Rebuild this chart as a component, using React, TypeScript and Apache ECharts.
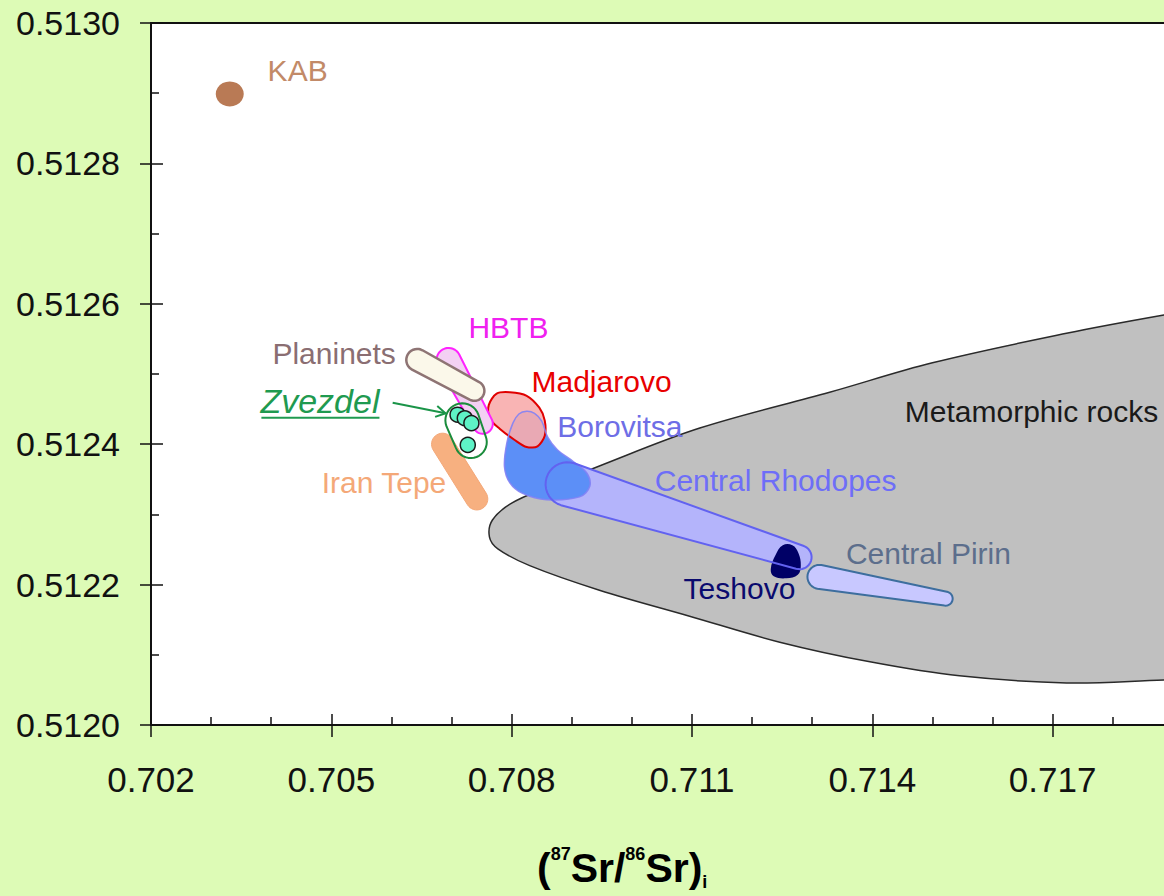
import React, { useEffect, useRef } from "react";
import * as echarts from "echarts";

// ---------- axes ----------
const X_MIN = 0.702;
const X_MAX = 0.72;
const X_STEP = 0.003;
const Y_MIN = 0.512;
const Y_MAX = 0.513;
const Y_STEP = 0.0002;

// ---------- fields (outline points, data units) ----------
const METAMORPHIC_ROCKS: [number, number][] = [
  [0.70763, 0.512268], [0.70768, 0.512292], [0.708, 0.512316], [0.70863, 0.51234],
  [0.70946, 0.512369], [0.71113, 0.512423], [0.71329, 0.512474], [0.715, 0.512516],
  [0.71723, 0.512558], [0.71885, 0.512584], [0.7202, 0.512603], [0.7202, 0.512067],
  [0.71885, 0.512064], [0.71723, 0.51206], [0.71545, 0.51207], [0.71396, 0.51209],
  [0.71246, 0.512118], [0.71096, 0.512155], [0.70946, 0.512192], [0.7083, 0.512227],
  [0.70777, 0.512251],
];
const BOROVITSA: [number, number][] = [
  [0.70825, 0.512447], [0.70838, 0.512444], [0.7085, 0.512433], [0.7086, 0.51241],
  [0.70876, 0.512392], [0.70903, 0.512375], [0.70925, 0.512359], [0.7093, 0.51234],
  [0.70913, 0.512325], [0.70858, 0.512321], [0.70818, 0.51233], [0.70797, 0.512345],
  [0.70788, 0.512368], [0.70792, 0.512402], [0.70802, 0.51243], [0.70812, 0.512443],
];
const MADJAROVO: [number, number][] = [
  [0.70762, 0.512456], [0.70775, 0.512472], [0.70797, 0.512474], [0.70825, 0.512469],
  [0.70846, 0.512452], [0.70855, 0.512434], [0.70855, 0.512412], [0.70843, 0.512397],
  [0.70825, 0.512396], [0.70805, 0.512406], [0.7078, 0.512422], [0.70763, 0.512437],
];
const TESHOVO: [number, number][] = [
  [0.71251, 0.512256], [0.71267, 0.512256], [0.71277, 0.512245], [0.71281, 0.512227],
  [0.71276, 0.512214], [0.71257, 0.512209], [0.71236, 0.512212], [0.71231, 0.512222],
  [0.71239, 0.512242],
];
// elongated fields: end points of their long axis
const CENTRAL_RHODOPES_AXIS: [number, number][] = [[0.70893, 0.512343], [0.71279, 0.512239]];
const CENTRAL_PIRIN_AXIS: [number, number][] = [[0.71312, 0.512211], [0.71522, 0.51218]];
const IRAN_TEPE_AXIS: [number, number][] = [[0.70685, 0.5124], [0.70742, 0.512322]];
const HBTB_AXIS: [number, number][] = [[0.70695, 0.51252], [0.70752, 0.512429]];
const PLANINETS_AXIS: [number, number][] = [[0.70643, 0.51252], [0.70738, 0.512476]];
const ZVEZDEL_FIELD_AXIS: [number, number][] = [[0.70718, 0.512434], [0.70732, 0.512403]];

// ---------- samples ----------
const ZVEZDEL_SAMPLES: [number, number][] = [
  [0.7071, 0.512442], [0.70722, 0.512437], [0.70733, 0.51243], [0.70727, 0.512399],
];
const KAB_SAMPLES: [number, number][] = [[0.70331, 0.512899]];
const ZVEZDEL_ARROW: [number, number][] = [[0.70602, 0.512459], [0.7069, 0.512444]];

// ---------- labels ----------
const LABEL_NAMES = [
  "KAB", "HBTB", "Planinets", "Zvezdel", "Madjarovo", "Borovitsa", "Iran Tepe",
  "Central Rhodopes", "Metamorphic rocks", "Central Pirin", "Teshovo",
];
const LABEL_POS: [number, number][] = [
  [0.70394, 0.512932], [0.70728, 0.512566], [0.70402, 0.512529], [0.70382, 0.512462],
  [0.70833, 0.512489], [0.70876, 0.512425], [0.70484, 0.512345], [0.71038, 0.512348],
  [0.71454, 0.512446], [0.71356, 0.512245], [0.71086, 0.512194],
];

// ---------- styles ----------
const FONT = '"Liberation Sans", Arial, Helvetica, sans-serif';
const LABEL_COLORS = [
  "#c28a68", "#f020f0", "#8a6e72", "#1f9a50", "#e80000", "#6e6ee6", "#f4a878",
  "#6e6ef8", "#1a1a1a", "#5c6e8c", "#0a0a6e",
];

type Layer = {
  pts?: [number, number][];
  axis?: [number, number][];
  r1?: number;
  r2?: number;
  smooth?: number;
  fill: string;
  stroke: string;
  lineWidth: number;
};

const LAYERS: Layer[] = [
  { pts: METAMORPHIC_ROCKS, smooth: 0.35, fill: "#c0c0c0", stroke: "#2a2a2a", lineWidth: 1.5 },
  { axis: CENTRAL_RHODOPES_AXIS, r1: 22, r2: 12, fill: "#b4b4fb", stroke: "none", lineWidth: 0 },
  { pts: BOROVITSA, smooth: 0.35, fill: "#5c8ff7", stroke: "none", lineWidth: 0 },
  { pts: MADJAROVO, smooth: 0.3, fill: "rgba(248,172,172,0.9)", stroke: "#e00000", lineWidth: 2 },
  { pts: BOROVITSA, smooth: 0.35, fill: "none", stroke: "rgba(130,130,245,0.9)", lineWidth: 1.5 },
  { pts: TESHOVO, smooth: 0.4, fill: "#000066", stroke: "none", lineWidth: 0 },
  { axis: CENTRAL_RHODOPES_AXIS, r1: 22, r2: 12, fill: "none", stroke: "#6262f0", lineWidth: 2 },
  { axis: CENTRAL_PIRIN_AXIS, r1: 12, r2: 7, fill: "#c8c8ff", stroke: "#3d6e9e", lineWidth: 2 },
  { axis: IRAN_TEPE_AXIS, r1: 11, r2: 11, fill: "#f7b080", stroke: "#f4a878", lineWidth: 1 },
  { axis: HBTB_AXIS, r1: 12, r2: 10, fill: "#f3d0f3", stroke: "#ff22ff", lineWidth: 2 },
  { axis: PLANINETS_AXIS, r1: 11, r2: 10, fill: "#fbf8ea", stroke: "#8e7474", lineWidth: 2.5 },
  { axis: ZVEZDEL_FIELD_AXIS, r1: 17, r2: 16, fill: "none", stroke: "#1a8c3c", lineWidth: 2 },
];

function capsule(a: number[], b: number[], r1: number, r2: number): number[][] {
  const dx = b[0] - a[0];
  const dy = b[1] - a[1];
  const L = Math.hypot(dx, dy) || 1;
  const ux = dx / L, uy = dy / L, nx = -uy, ny = ux;
  const pts: number[][] = [];
  const N = 18;
  for (let i = 0; i <= N; i++) {
    const t = Math.PI / 2 - (Math.PI * i) / N;
    const c = Math.cos(t), s = Math.sin(t);
    pts.push([b[0] + r2 * (ux * c + nx * s), b[1] + r2 * (uy * c + ny * s)]);
  }
  for (let i = 0; i <= N; i++) {
    const t = -Math.PI / 2 - (Math.PI * i) / N;
    const c = Math.cos(t), s = Math.sin(t);
    pts.push([a[0] + r1 * (ux * c + nx * s), a[1] + r1 * (uy * c + ny * s)]);
  }
  return pts;
}

function textWidth(text: string, font: string): number {
  const c = document.createElement("canvas").getContext("2d");
  if (!c) return text.length * 17;
  c.font = font;
  return c.measureText(text).width;
}

export default function App() {
  const ref = useRef<HTMLDivElement>(null);

  useEffect(() => {
    if (!ref.current) return;
    const chart = echarts.init(ref.current, undefined, { renderer: "svg" });

    const tickColor = "#111111";

    const option: any = {
      animation: false,
      backgroundColor: "#ddfbb6",
      grid: {
        left: 151,
        top: 23,
        width: 1082,
        height: 702,
        containLabel: false,
        outerBoundsMode: "none",
        show: true,
        backgroundColor: "#ffffff",
        borderWidth: 0,
      },
      xAxis: [
        {
          type: "value",
          min: X_MIN,
          max: X_MAX,
          interval: X_STEP,
          position: "bottom",
          axisLine: { show: true, onZero: false, lineStyle: { color: tickColor, width: 2 } },
          axisTick: { show: true, inside: false, length: 12, lineStyle: { color: tickColor, width: 1.5 } },
          minorTick: { show: false },
          axisLabel: {
            color: "#111111",
            fontSize: 35,
            fontFamily: FONT,
            margin: 37,
            showMaxLabel: false,
            formatter: (v: number) => (v > 0.7185 ? "" : v.toFixed(3)),
          },
          splitLine: { show: false },
        },
        {
          type: "value",
          min: X_MIN,
          max: X_MAX,
          interval: X_STEP,
          position: "bottom",
          axisLine: { show: false, onZero: false },
          axisTick: { show: true, inside: true, length: 11, lineStyle: { color: tickColor, width: 1.5 } },
          minorTick: { show: true, splitNumber: 3, length: 8, lineStyle: { color: tickColor, width: 1.5 } },
          axisLabel: { show: false },
          splitLine: { show: false },
        },
        {
          type: "value",
          min: X_MIN,
          max: X_MAX,
          position: "top",
          axisLine: { show: true, onZero: false, lineStyle: { color: tickColor, width: 2 } },
          axisTick: { show: false },
          axisLabel: { show: false },
          splitLine: { show: false },
        },
      ],
      yAxis: [
        {
          type: "value",
          min: Y_MIN,
          max: Y_MAX,
          interval: Y_STEP,
          position: "left",
          axisLine: { show: true, onZero: false, lineStyle: { color: tickColor, width: 2 } },
          axisTick: { show: true, inside: false, length: 11, lineStyle: { color: tickColor, width: 1.5 } },
          axisLabel: {
            color: "#111111",
            fontSize: 34,
            fontFamily: FONT,
            margin: 31,
            formatter: (v: number) => v.toFixed(4),
          },
          splitLine: { show: false },
        },
        {
          type: "value",
          min: Y_MIN,
          max: Y_MAX,
          interval: Y_STEP,
          position: "left",
          axisLine: { show: false, onZero: false },
          axisTick: { show: true, inside: true, length: 12, lineStyle: { color: tickColor, width: 1.5 } },
          minorTick: { show: true, splitNumber: 2, length: 8, lineStyle: { color: tickColor, width: 1.5 } },
          axisLabel: { show: false },
          splitLine: { show: false },
        },
      ],
      graphic: [
        {
          type: "text",
          x: 537,
          y: 845,
          silent: true,
          style: {
            text: "{m|(}{sup|87}{m|Sr/}{sup|86}{m|Sr)}{sub|i}",
            fontFamily: FONT,
            rich: {
              m: { fontSize: 41, fontWeight: "bold", color: "#111111", fontFamily: FONT, lineHeight: 46 },
              sup: { fontSize: 18, fontWeight: "bold", color: "#111111", fontFamily: FONT, lineHeight: 20, verticalAlign: "top" },
              sub: { fontSize: 18, fontWeight: "bold", color: "#111111", fontFamily: FONT, lineHeight: 14, verticalAlign: "bottom" },
            },
          },
        },
      ],
      series: [
        {
          type: "custom",
          name: "fields",
          silent: true,
          data: LAYERS.map((l, i) => [(l.pts || l.axis!)[0][0], (l.pts || l.axis!)[0][1], i]),
          renderItem: (params: any, api: any) => {
            const l = LAYERS[params.dataIndex];
            let pts: number[][];
            let smooth = 0;
            if (l.axis) {
              const a = api.coord(l.axis[0]);
              const b = api.coord(l.axis[1]);
              pts = capsule(a, b, l.r1 || 10, l.r2 || 10);
            } else {
              pts = l.pts!.map((p) => api.coord(p));
              smooth = l.smooth || 0;
            }
            return {
              type: "polygon",
              shape: { points: pts, smooth },
              style: { fill: l.fill, stroke: l.stroke, lineWidth: l.lineWidth, lineJoin: "round" },
            };
          },
          z: 2,
        },
        {
          type: "scatter",
          name: "Zvezdel",
          silent: true,
          symbol: "circle",
          symbolSize: 15,
          data: ZVEZDEL_SAMPLES,
          itemStyle: { color: "#5ef2c6", borderColor: "#1a1a1a", borderWidth: 1.5, opacity: 1 },
          z: 3,
        },
        {
          type: "scatter",
          name: "KAB",
          silent: true,
          symbol: "circle",
          symbolSize: [28, 25],
          data: KAB_SAMPLES,
          itemStyle: { color: "#b97a55", opacity: 1 },
          z: 3,
        },
        {
          type: "custom",
          name: "arrow",
          silent: true,
          data: [[ZVEZDEL_ARROW[0][0], ZVEZDEL_ARROW[0][1]]],
          renderItem: (params: any, api: any) => {
            const t = api.coord(ZVEZDEL_ARROW[0]);
            const h = api.coord(ZVEZDEL_ARROW[1]);
            const dx = h[0] - t[0], dy = h[1] - t[1];
            const L = Math.hypot(dx, dy) || 1;
            const ux = dx / L, uy = dy / L;
            const arm = 11, ang = (30 * Math.PI) / 180;
            const rot = (a: number) => [
              ux * Math.cos(a) - uy * Math.sin(a),
              ux * Math.sin(a) + uy * Math.cos(a),
            ];
            const r1 = rot(ang), r2 = rot(-ang);
            return {
              type: "group",
              children: [
                { type: "line", shape: { x1: t[0], y1: t[1], x2: h[0], y2: h[1] }, style: { stroke: "#1a9448", lineWidth: 2 } },
                {
                  type: "polyline",
                  shape: { points: [[h[0] - arm * r1[0], h[1] - arm * r1[1]], h, [h[0] - arm * r2[0], h[1] - arm * r2[1]]] },
                  style: { stroke: "#1a9448", lineWidth: 2, fill: "none" },
                },
              ],
            };
          },
          z: 4,
        },
        {
          type: "custom",
          name: "labels",
          silent: true,
          data: LABEL_POS.map((p, i) => [p[0], p[1], i]),
          renderItem: (params: any, api: any) => {
            const i = params.dataIndex;
            const p = api.coord(LABEL_POS[i]);
            const name = LABEL_NAMES[i];
            const italic = name === "Zvezdel";
            const size = italic ? 34 : 30;
            const children: any[] = [
              {
                type: "text",
                x: p[0],
                y: p[1],
                style: {
                  text: name,
                  fill: LABEL_COLORS[i],
                  fontSize: size,
                  fontFamily: FONT,
                  fontStyle: italic ? "italic" : "normal",
                  align: "left",
                  verticalAlign: "middle",
                },
              },
            ];
            if (italic) {
              const w = textWidth(name, `italic ${size}px ${FONT}`);
              children.push({
                type: "line",
                shape: { x1: p[0] + 1, y1: p[1] + 17, x2: p[0] + w, y2: p[1] + 17 },
                style: { stroke: LABEL_COLORS[i], lineWidth: 2 },
              });
            }
            return { type: "group", children };
          },
          z: 5,
        },
      ],
    };

    chart.setOption(option);
    return () => chart.dispose();
  }, []);

  return (
    <div
      ref={ref}
      style={{ position: "fixed", left: 0, top: 0, width: 1164, height: 896, background: "#ddfbb6" }}
    />
  );
}
